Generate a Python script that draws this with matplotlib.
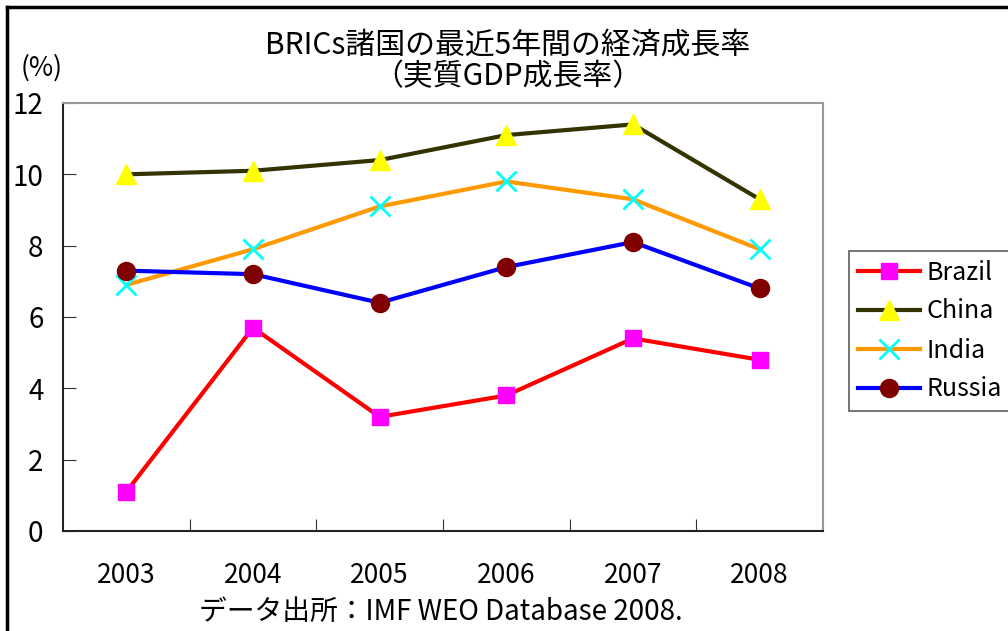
import matplotlib
matplotlib.use("Agg")
import matplotlib.pyplot as plt
from matplotlib.lines import Line2D

plt.rcParams['font.family'] = ['Noto Sans CJK JP', 'DejaVu Sans']

years = ["2003", "2004", "2005", "2006", "2007", "2008"]
brazil = [1.1, 5.7, 3.2, 3.8, 5.4, 4.8]
china = [10.0, 10.1, 10.4, 11.1, 11.4, 9.3]
india = [6.9, 7.9, 9.1, 9.8, 9.3, 7.9]
russia = [7.3, 7.2, 6.4, 7.4, 8.1, 6.8]

fig = plt.figure(figsize=(10.08, 6.31), dpi=100)
ax = fig.add_axes([63 / 1008, 1 - 531 / 631, 760 / 1008, 428 / 631])

x = range(len(years))
ax.plot(x, brazil, color="#ff0000", lw=3, marker="s", ms=12,
        mfc="#ff00ff", mec="#ff00ff", label="Brazil")
ax.plot(x, china, color="#333300", lw=3, marker="^", ms=15,
        mfc="#ffff00", mec="#ffff00", label="China")
ax.plot(x, india, color="#ff9900", lw=3, marker="x", ms=14, mew=2,
        mec="#00ffff", label="India")
ax.plot(x, russia, color="#0000ff", lw=3, marker="o", ms=13,
        mfc="#800000", mec="#800000", label="Russia")

ax.set_xlim(-0.5, len(years) - 0.5)
ax.set_ylim(0, 12)
ax.set_yticks(range(0, 13, 2))

# category boundaries get the tick marks, labels sit in the middle
ax.set_xticks([i + 0.5 for i in range(len(years) - 1)])
ax.set_xticklabels([])
ax.set_xticks(list(x), minor=True)
ax.set_xticklabels(years, minor=True, fontsize=19)
ax.tick_params(axis="x", which="major", direction="in", length=9, color="#333333")
ax.tick_params(axis="x", which="minor", length=0, pad=22)
ax.tick_params(axis="y", direction="in", length=9, color="#333333",
               labelsize=20, pad=14)

for side in ("top", "right"):
    ax.spines[side].set_color("#999999")
    ax.spines[side].set_linewidth(1.5)
for side in ("left", "bottom"):
    ax.spines[side].set_color("#222222")
    ax.spines[side].set_linewidth(1.5)

fig.text(508 / 1008, 1 - 45 / 631, "BRICs諸国の最近5年間の経済成長率",
         ha="center", va="center", fontsize=21.5)
fig.text(508 / 1008, 1 - 77 / 631, "（実質GDP成長率）",
         ha="center", va="center", fontsize=21.5)
fig.text(42 / 1008, 1 - 68 / 631, "(%)", ha="center", va="center", fontsize=19)
fig.text(441 / 1008, 1 - 612 / 631, "データ出所：IMF WEO Database 2008.",
         ha="center", va="center", fontsize=20)

leg = fig.legend(loc="center left", bbox_to_anchor=(849 / 1008, 1 - 331 / 631),
                 fontsize=18, frameon=True, fancybox=False, edgecolor="#333333",
                 handlelength=2.5, handletextpad=0.25, borderpad=0.35,
                 labelspacing=0.52, borderaxespad=0)
leg.get_frame().set_linewidth(1.2)

# outer chart border on the left and top edges
fig.add_artist(Line2D([7 / 1008, 7 / 1008], [0, 1 - 7 / 631],
                      transform=fig.transFigure, color="black", lw=2.5))
fig.add_artist(Line2D([7 / 1008, 1], [1 - 7 / 631, 1 - 7 / 631],
                      transform=fig.transFigure, color="black", lw=2.5))

fig.savefig("out.png", dpi=100)
